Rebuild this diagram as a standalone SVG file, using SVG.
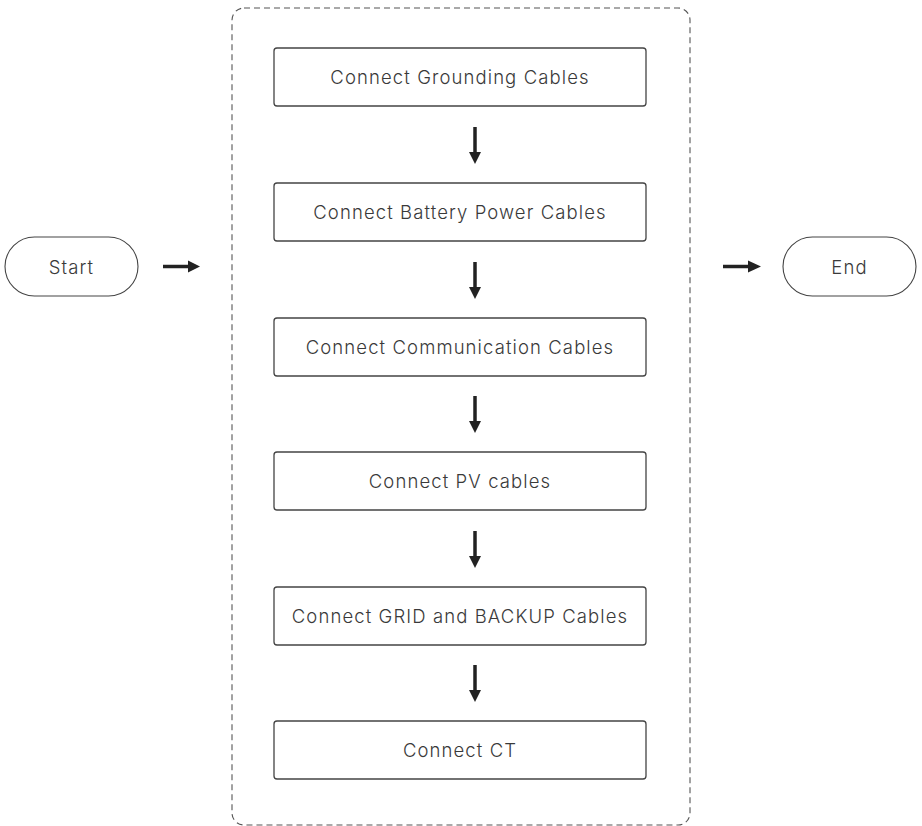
<svg xmlns="http://www.w3.org/2000/svg" width="922" height="826" viewBox="0 0 922 826">
<style>
.box{fill:#fff;stroke:#444;stroke-width:1.3}
.pill{fill:#fff;stroke:#444;stroke-width:1.1}
.t{font-family:Inter,"Open Sans",sans-serif;font-weight:300;font-size:18.5px;letter-spacing:1.1px;fill:#3a3a3a;text-anchor:middle;dominant-baseline:central}
.c{stroke:#222;stroke-width:3.5;fill:none}
.h{fill:#222}
</style>
<rect width="922" height="826" fill="#fff"/>
<rect id="container" x="232" y="8" width="458" height="817" rx="12" fill="none" stroke="#555" stroke-width="1.1" stroke-dasharray="6,4"/>
<g id="start"><rect class="pill" x="5" y="237" width="133" height="59" rx="29.5"/><text class="t" x="71.5" y="266.5">Start</text></g>
<g id="end"><rect class="pill" x="783" y="237" width="133" height="59" rx="29.5"/><text class="t" x="849.5" y="266.5">End</text></g>
<g id="n1"><rect class="box" x="274" y="48" width="372" height="58" rx="3"/><text class="t" x="460" y="77">Connect Grounding Cables</text></g>
<g id="n2"><rect class="box" x="274" y="183" width="372" height="58" rx="3"/><text class="t" x="460" y="212">Connect Battery Power Cables</text></g>
<g id="n3"><rect class="box" x="274" y="318" width="372" height="58" rx="3"/><text class="t" x="460" y="347">Connect Communication Cables</text></g>
<g id="n4"><rect class="box" x="274" y="452" width="372" height="58" rx="3"/><text class="t" x="460" y="481">Connect PV cables</text></g>
<g id="n5"><rect class="box" x="274" y="587" width="372" height="58" rx="3"/><text class="t" x="460" y="616">Connect GRID and BACKUP Cables</text></g>
<g id="n6"><rect class="box" x="274" y="721" width="372" height="58" rx="3"/><text class="t" x="460" y="750">Connect CT</text></g>
<g id="connectors">
<line class="c" x1="163" y1="266.5" x2="190" y2="266.5"/><polygon class="h" points="188,260.5 200,266.5 188,272.5"/>
<line class="c" x1="723" y1="266.5" x2="750" y2="266.5"/><polygon class="h" points="748,260.5 761,266.5 748,272.5"/>
<line class="c" x1="475" y1="127" x2="475" y2="154"/><polygon class="h" points="469,152 481,152 475,164"/>
<line class="c" x1="475" y1="262" x2="475" y2="289"/><polygon class="h" points="469,287 481,287 475,299"/>
<line class="c" x1="475" y1="396" x2="475" y2="423"/><polygon class="h" points="469,421 481,421 475,433"/>
<line class="c" x1="475" y1="531" x2="475" y2="558"/><polygon class="h" points="469,556 481,556 475,568"/>
<line class="c" x1="475" y1="665" x2="475" y2="692"/><polygon class="h" points="469,690 481,690 475,702"/>
</g>
</svg>
